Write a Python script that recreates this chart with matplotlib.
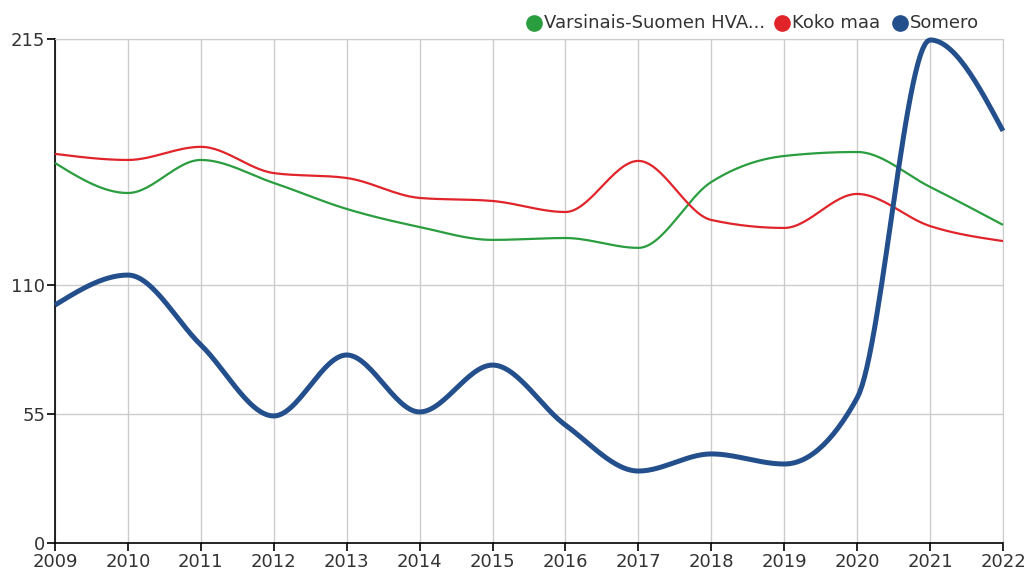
import numpy as np
import matplotlib.pyplot as plt

years = list(range(2009, 2023))
hva = [162.1, 149.3, 163.4, 153.6, 142.5, 134.8, 129.3, 130.1, 125.9, 154.0, 165.1, 166.8, 151.9, 135.7]
koko = [166.0, 163.4, 169.0, 157.8, 155.7, 147.2, 145.9, 141.2, 163.0, 137.8, 134.4, 148.9, 135.2, 128.8]
somero = [101.5, 114.3, 84.5, 54.2, 80.2, 55.9, 75.9, 50.3, 30.7, 38.0, 33.7, 61.9, 214.6, 175.8]
yticks = [0, 55, 110, 215]

green = '#2a9d3f'
red = '#e0242a'
blue = '#234f8c'


def monotone(x, y, n=30):
    # d3 curveMonotoneX style cubic hermite
    x = np.asarray(x, float)
    y = np.asarray(y, float)
    h = np.diff(x)
    s = np.diff(y) / h
    t = np.zeros(len(x))
    for i in range(1, len(x) - 1):
        p = (s[i - 1] * h[i] + s[i] * h[i - 1]) / (h[i - 1] + h[i])
        t[i] = (np.sign(s[i - 1]) + np.sign(s[i])) * min(abs(s[i - 1]), abs(s[i]), 0.5 * abs(p))
    t[0] = (3 * s[0] - t[1]) / 2
    t[-1] = (3 * s[-1] - t[-2]) / 2
    xs, ys = [], []
    for i in range(len(x) - 1):
        u = np.linspace(0, 1, n, endpoint=(i == len(x) - 2))
        h00 = 2 * u**3 - 3 * u**2 + 1
        h10 = u**3 - 2 * u**2 + u
        h01 = -2 * u**3 + 3 * u**2
        h11 = u**3 - u**2
        xs.append(x[i] + u * h[i])
        ys.append(h00 * y[i] + h10 * h[i] * t[i] + h01 * y[i + 1] + h11 * h[i] * t[i + 1])
    return np.concatenate(xs), np.concatenate(ys)


fig = plt.figure(figsize=(10.31, 5.70), dpi=100)
ax = fig.add_axes([55 / 1031, 27 / 570, 948 / 1031, 504 / 570])

for vals, c, lw in [(hva, green, 1.6), (koko, red, 1.6), (somero, blue, 3.6)]:
    xs, ys = monotone(years, vals)
    ax.plot(xs, ys, color=c, lw=lw, solid_capstyle='butt', clip_on=False, zorder=3)

ax.set_xlim(2009, 2022)
ax.set_ylim(0, 215)
ax.set_xticks(years)
ax.set_yticks(yticks)
ax.grid(True, color='#cccccc', lw=1)
ax.set_axisbelow(True)
for sp in ['top', 'right']:
    ax.spines[sp].set_color('#cccccc')
for sp in ['left', 'bottom']:
    ax.spines[sp].set_color('black')
    ax.spines[sp].set_linewidth(1.2)
ax.tick_params(length=6, width=1.2, labelsize=13, labelcolor='#333333', pad=1)

legend = [('Varsinais-Suomen HVA...', green, 534), ('Koko maa', red, 782), ('Somero', blue, 900)]
for label, c, px in legend:
    fig.add_artist(plt.Line2D([px / 1031], [1 - 23 / 570], marker='o', markersize=11,
                              color=c, transform=fig.transFigure))
    fig.text((px + 10) / 1031, 1 - 23 / 570, label, fontsize=13, color='#333333',
             va='center', ha='left')

fig.savefig('out.png', dpi=100)
